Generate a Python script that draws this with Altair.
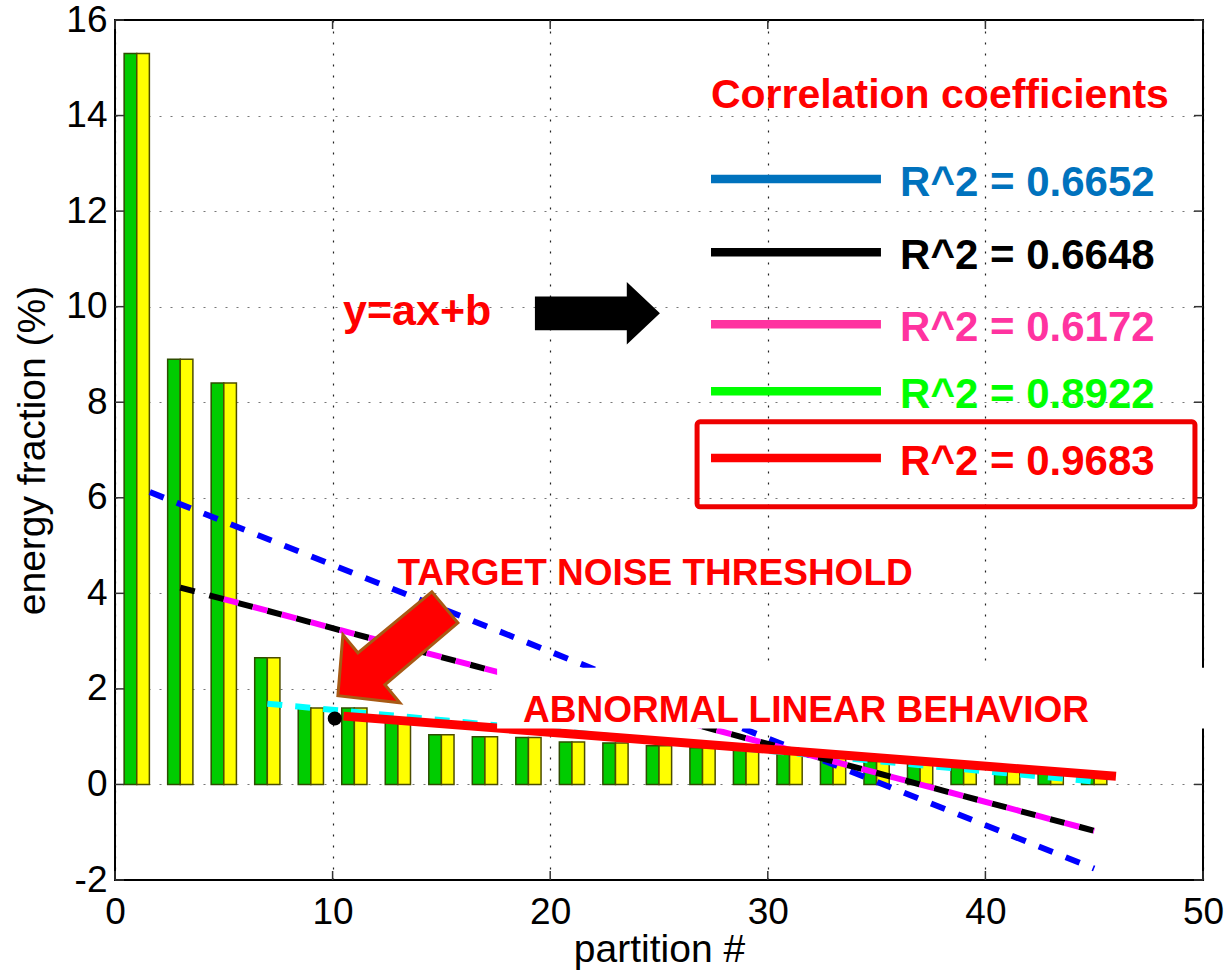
import altair as alt
import pandas as pd

# ---- energy per partition (two bar series per odd partition index) ----
partition = list(range(1, 46, 2))
green_pct = [15.3, 8.9, 8.4, 2.65, 1.6, 1.6, 1.35, 1.04, 1.0, 0.98, 0.89, 0.87,
             0.81, 0.77, 0.72, 0.66, 0.55, 0.48, 0.42, 0.36, 0.29, 0.25, 0.16]
yellow_pct = [15.3, 8.9, 8.4, 2.65, 1.6, 1.6, 1.35, 1.04, 1.0, 0.98, 0.89, 0.87,
              0.81, 0.77, 0.72, 0.66, 0.55, 0.48, 0.42, 0.36, 0.29, 0.25, 0.16]

# ---- linear fits y = ax + b (end points) ----
fit_blue_x, fit_blue_y = [1.6, 45], [6.12, -1.76]
fit_black_x, fit_black_y = [3, 45], [4.12, -0.97]
fit_magenta_x, fit_magenta_y = [5, 45], [3.88, -0.97]
fit_cyan_x, fit_cyan_y = [7, 45], [1.69, 0.06]
fit_red_x, fit_red_y = [10.5, 46], [1.43, 0.17]
threshold_x, threshold_y = [10.1], [1.38]

# ---- correlation coefficient legend ----
r2_labels = ["R^2 = 0.6652", "R^2 = 0.6648", "R^2 = 0.6172", "R^2 = 0.8922", "R^2 = 0.9683"]
r2_colors = ["#0072BD", "#000000", "#FF33A0", "#00FF00", "#FF0000"]
r2_rows = [12.67, 11.14, 9.63, 8.23, 6.83]

x_ticks = [0, 10, 20, 30, 40, 50]
y_ticks = [-2, 0, 2, 4, 6, 8, 10, 12, 14, 16]

W, H = 1088, 860
FONT = "Liberation Sans"
BAR_HALF = 0.58

xs = alt.Scale(domain=[0, 50], nice=False, zero=False)
ys = alt.Scale(domain=[-2, 16], nice=False, zero=False)

x_axis = alt.Axis(values=x_ticks, labelExpr="'' + datum.value", grid=True,
                  gridDash=[2, 9], gridColor="#222222", gridWidth=1.2,
                  domain=False, ticks=False, labelFontSize=37, labelFont=FONT,
                  labelColor="#000", labelPadding=43, labelBaseline="alphabetic",
                  labelFlush=False, labelOverlap=False,
                  title="partition #", titleFont=FONT, titleFontSize=39,
                  titleFontWeight="normal", titleColor="#000",
                  titleX=W / 2, titleY=81, titleBaseline="alphabetic", titleAlign="center")
y_axis = alt.Axis(values=y_ticks, labelExpr="'' + datum.value", grid=True,
                  gridDash=[2, 9], gridColor="#777777", gridWidth=1.2,
                  domain=False, ticks=False, labelFontSize=37, labelFont=FONT,
                  labelColor="#000", labelPadding=8, labelAlign="right",
                  labelBaseline="middle", labelFlush=False, labelOverlap=False,
                  title="energy fraction (%)", titleFont=FONT, titleFontSize=39,
                  titleFontWeight="normal", titleColor="#000", titleAngle=-90,
                  titleX=-71, titleY=H / 2, titleBaseline="alphabetic", titleAlign="center")


def X(field):
    return alt.X(field, scale=xs, axis=x_axis)


def Y(field):
    return alt.Y(field, scale=ys, axis=y_axis)


def XD(v):
    return alt.XDatum(v, scale=xs, axis=x_axis)


def YD(v):
    return alt.YDatum(v, scale=ys, axis=y_axis)


bars_df = pd.DataFrame({"partition": partition, "green": green_pct, "yellow": yellow_pct})

bars_green = alt.Chart(bars_df).transform_calculate(
    x0=f"datum.partition - {BAR_HALF}", x1="datum.partition"
).mark_rect(color="#00CC00", stroke="#2d4d00", strokeWidth=1.5).encode(
    x=X("x0:Q"), x2="x1:Q", y=Y("green:Q"), y2=alt.datum(0),
)
bars_yellow = alt.Chart(bars_df).transform_calculate(
    x0="datum.partition", x1=f"datum.partition + {BAR_HALF}"
).mark_rect(color="#FFFF00", stroke="#4d4d00", strokeWidth=1.5).encode(
    x=X("x0:Q"), x2="x1:Q", y=Y("yellow:Q"), y2=alt.datum(0),
)


def fit_line(xv, yv, color, width, dash=None, offset=0):
    df = pd.DataFrame({"x": xv, "y": yv})
    kw = dict(color=color, strokeWidth=width, strokeCap="butt")
    if dash:
        kw["strokeDash"] = dash
        kw["strokeDashOffset"] = offset
    return alt.Chart(df).mark_line(**kw).encode(x=X("x:Q"), y=Y("y:Q"))


line_cyan = fit_line(fit_cyan_x, fit_cyan_y, "#00FFFF", 6, [15, 13])
line_blue = fit_line(fit_blue_x, fit_blue_y, "#0000FF", 6, [15, 14])
line_black = fit_line(fit_black_x, fit_black_y, "#000000", 6, [15, 15])
line_magenta = fit_line(fit_magenta_x, fit_magenta_y, "#FF00FF", 6, [15, 15], 0)
line_red = fit_line(fit_red_x, fit_red_y, "#FF0000", 9)

point_df = pd.DataFrame({"x": threshold_x, "y": threshold_y})
threshold_pt = alt.Chart(point_df).mark_point(
    shape="circle", filled=True, color="#000", size=200, opacity=1
).encode(x=X("x:Q"), y=Y("y:Q"))

one = pd.DataFrame({"k": [0]})

# plot frame with inward ticks
frame = alt.Chart(one).mark_rect(filled=False, stroke="#000", strokeWidth=2).encode(
    x=alt.value(0), x2=alt.value(W), y=alt.value(0), y2=alt.value(H))
xt_df = pd.DataFrame({"t": x_ticks})
yt_df = pd.DataFrame({"t": y_ticks})
tick_style = dict(color="#333", strokeWidth=1.5)
xt_bottom = alt.Chart(xt_df).mark_rule(**tick_style).encode(
    x=X("t:Q"), y=alt.value(H), y2=alt.value(H - 9))
xt_top = alt.Chart(xt_df).mark_rule(**tick_style).encode(
    x=X("t:Q"), y=alt.value(0), y2=alt.value(9))
yt_left = alt.Chart(yt_df).mark_rule(**tick_style).encode(
    y=Y("t:Q"), x=alt.value(0), x2=alt.value(9))
yt_right = alt.Chart(yt_df).mark_rule(**tick_style).encode(
    y=Y("t:Q"), x=alt.value(W), x2=alt.value(W - 9))

# white label box behind "ABNORMAL LINEAR BEHAVIOR"
label_box = alt.Chart(one).mark_rect(color="#FFFFFF", opacity=1).encode(
    x=XD(17.56), x2=alt.datum(51.2), y=YD(2.445), y2=alt.datum(1.17))


def note(text, x, y, size, color="#FF0000", align="center"):
    df = pd.DataFrame({"x": [x], "y": [y], "text": [text]})
    return alt.Chart(df).mark_text(
        font=FONT, fontWeight="bold", fontSize=size, color=color,
        align=align, baseline="alphabetic"
    ).encode(x=X("x:Q"), y=Y("y:Q"), text="text:N")


t_abnormal = note("ABNORMAL LINEAR BEHAVIOR", 31.76, 1.30, 37)
t_target = note("TARGET NOISE THRESHOLD", 24.82, 4.18, 37)
t_model = note("y=ax+b", 10.48, 9.61, 43, align="left")
t_corr = note("Correlation coefficients", 37.91, 14.15, 41)

# arrows as custom symbol paths
arrow_right = "M-1,-0.27 L0.47,-0.27 L0.47,-0.5 L1,0 L0.47,0.5 L0.47,0.27 L-1,0.27 Z"
arrow_down_left = ("M-0.923,0.738 L-0.846,-0.2 L-0.615,0.077 L0.523,-0.862 "
                   "L0.923,-0.385 L-0.2,0.569 L0.031,0.846 Z")
black_arrow = alt.Chart(pd.DataFrame({"x": [22.17], "y": [9.86]})).mark_point(
    shape=arrow_right, filled=True, fill="#000", size=125 ** 2, opacity=1, strokeWidth=0
).encode(x=X("x:Q"), y=Y("y:Q"))
red_arrow = alt.Chart(pd.DataFrame({"x": [13.0], "y": [2.86]})).mark_point(
    shape=arrow_down_left, filled=True, fill="#FF0000", stroke="#A85A14",
    strokeWidth=3, size=130 ** 2, opacity=1, fillOpacity=1, strokeOpacity=1
).encode(x=X("x:Q"), y=Y("y:Q"))

legend_df = pd.DataFrame({"label": r2_labels, "color": r2_colors, "row": r2_rows})
legend_lines = alt.Chart(legend_df).mark_rule(strokeWidth=8.5).encode(
    x=XD(27.39), x2=alt.datum(35.2), y=Y("row:Q"),
    color=alt.Color("color:N", scale=None))
legend_text = alt.Chart(legend_df).mark_text(
    font=FONT, fontWeight="bold", fontSize=42, align="left", baseline="middle", dy=4
).encode(x=XD(36.08), y=Y("row:Q"), text="label:N",
         color=alt.Color("color:N", scale=None))
legend_box = alt.Chart(one).mark_rect(
    filled=False, stroke="#EE0000", strokeWidth=5, cornerRadius=3
).encode(x=XD(26.75), x2=alt.datum(49.63), y=YD(7.59), y2=alt.datum(5.81))

chart = alt.layer(
    bars_green, bars_yellow,
    line_cyan, line_blue, line_black, line_magenta, line_red, threshold_pt,
    frame, xt_bottom, xt_top, yt_left, yt_right,
    label_box, t_abnormal, t_target, t_model, t_corr,
    black_arrow, red_arrow,
    legend_lines, legend_text, legend_box,
).properties(
    width=W, height=H,
    autosize=alt.AutoSizeParams(type="none"),
    padding={"left": 115, "top": 20, "right": 26, "bottom": 92},
    background="#FFFFFF",
).configure_view(strokeWidth=0)

chart.save("out.html", embed_options={"renderer": "svg", "actions": False})
